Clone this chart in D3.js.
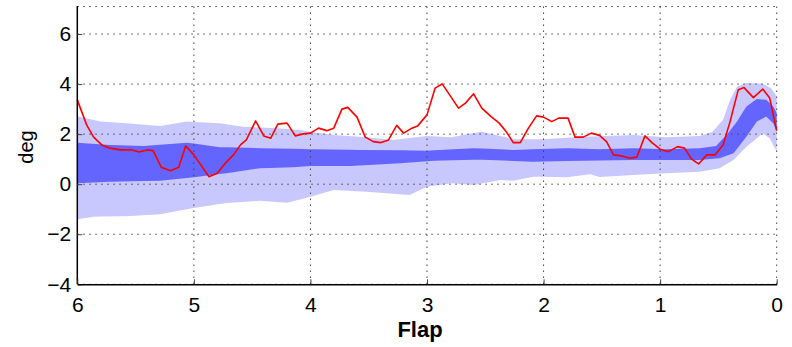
<!DOCTYPE html>
<html>
<head>
<meta charset="utf-8">
<script src="https://cdn.jsdelivr.net/npm/d3@7"></script>
<style>
  body { margin: 0; background: #fff; }
  svg { display: block; }
</style>
</head>
<body>
<div id="chart"></div>
<script>
// flap position (x, descending 6 -> 0) and values in deg
const lightUpper = [[6,2.71],[5.8,2.5],[5.58,2.44],[5.29,2.33],[5.06,2.5],[4.78,2.44],[4.58,2.3],[4.29,2.24],[4.09,2.17],[4.0,2.1],[3.8,1.97],[3.52,1.88],[3.29,1.77],[3.0,1.93],[2.79,1.88],[2.53,2.1],[2.26,1.8],[2.0,1.8],[1.72,1.88],[1.52,1.92],[1.23,1.97],[0.95,1.88],[0.66,1.93],[0.55,2.1],[0.46,2.57],[0.4,3.37],[0.34,3.9],[0.26,4.04],[0.12,4.01],[0.05,3.84],[0,3.5]];
const lightLower = [[6,-1.4],[5.86,-1.3],[5.58,-1.28],[5.29,-1.2],[5.12,-1.05],[5.0,-0.95],[4.72,-0.75],[4.43,-0.66],[4.2,-0.74],[4.0,-0.5],[3.8,-0.23],[3.52,-0.3],[3.15,-0.43],[3.0,-0.1],[2.79,0.04],[2.6,-0.03],[2.37,0.17],[2.26,0.14],[2.09,0.3],[1.8,0.28],[1.6,0.4],[1.52,0.29],[1.23,0.37],[0.95,0.44],[0.66,0.5],[0.49,0.64],[0.37,0.97],[0.26,1.5],[0.17,1.84],[0.12,2.04],[0.06,1.84],[0,1.3]];
const darkUpper = [[6,1.66],[5.72,1.57],[5.43,1.53],[5.06,1.66],[4.78,1.48],[4.43,1.44],[4.0,1.4],[3.58,1.37],[3.0,1.34],[2.6,1.44],[2.26,1.37],[1.8,1.44],[1.52,1.4],[1.23,1.44],[0.95,1.4],[0.66,1.44],[0.52,1.53],[0.43,1.97],[0.34,2.5],[0.26,3.1],[0.17,3.4],[0.09,3.37],[0.03,3.1],[0,2.84]];
const darkLower = [[6,0.04],[5.72,0.1],[5.29,0.14],[5.0,0.28],[4.72,0.44],[4.43,0.64],[4.15,0.68],[4.0,0.73],[3.66,0.73],[3.23,0.84],[2.94,0.94],[2.52,0.98],[2.09,0.9],[1.52,0.95],[1.23,0.97],[0.95,0.97],[0.66,0.97],[0.49,1.04],[0.37,1.24],[0.26,1.9],[0.17,2.5],[0.09,2.7],[0.03,2.44],[0,2.1]];
const flapLine = [[6,3.37],[5.92,2.37],[5.86,1.88],[5.79,1.57],[5.72,1.44],[5.63,1.37],[5.53,1.37],[5.47,1.29],[5.4,1.37],[5.35,1.34],[5.28,0.68],[5.2,0.54],[5.13,0.68],[5.07,1.53],[5.0,1.17],[4.87,0.3],[4.8,0.44],[4.73,0.84],[4.66,1.17],[4.6,1.57],[4.55,1.77],[4.47,2.53],[4.4,1.93],[4.34,1.84],[4.28,2.4],[4.2,2.44],[4.13,1.93],[4.06,2.01],[4.0,2.04],[3.93,2.24],[3.86,2.14],[3.8,2.24],[3.73,3.0],[3.68,3.07],[3.6,2.68],[3.53,1.88],[3.46,1.7],[3.4,1.66],[3.33,1.77],[3.26,2.35],[3.2,2.04],[3.13,2.24],[3.08,2.33],[3.0,2.77],[2.93,3.84],[2.87,4.01],[2.8,3.53],[2.73,3.04],[2.67,3.24],[2.6,3.61],[2.53,3.04],[2.45,2.7],[2.38,2.44],[2.32,2.1],[2.26,1.66],[2.2,1.66],[2.13,2.24],[2.06,2.73],[2.0,2.68],[1.93,2.5],[1.87,2.64],[1.79,2.64],[1.73,1.88],[1.66,1.88],[1.59,2.04],[1.52,1.95],[1.46,1.7],[1.4,1.17],[1.33,1.13],[1.26,1.04],[1.2,1.08],[1.13,1.93],[1.07,1.66],[1.0,1.4],[0.93,1.3],[0.85,1.5],[0.79,1.44],[0.73,1.0],[0.67,0.81],[0.6,1.17],[0.53,1.17],[0.46,1.57],[0.4,2.5],[0.33,3.77],[0.28,3.86],[0.2,3.46],[0.12,3.8],[0.06,3.44],[0,2.14]];
const xTicks = [6, 5, 4, 3, 2, 1, 0];
const yTicks = [-4, -2, 0, 2, 4, 6];

const W = 792, H = 347;
const plotLeft = 77.3, plotRight = 776.7, plotTop = 6.5, plotBottom = 284.3;
const font = "'Liberation Sans', Arial, sans-serif";

const x = d3.scaleLinear().domain([6, 0]).range([plotLeft, plotRight]);
const y = d3.scaleLinear().domain([-4, 7.1]).range([plotBottom, plotTop]);

const svg = d3.select("#chart").append("svg")
  .attr("width", W).attr("height", H);

// merge upper/lower edges onto one set of x positions
const band = (up, low) => {
  const xs = Array.from(new Set([...up.map(d => d[0]), ...low.map(d => d[0])])).sort((a, b) => b - a);
  const interp = arr => {
    const ax = arr.map(d => d[0]).reverse(), ay = arr.map(d => d[1]).reverse();
    return v => {
      const i = d3.bisectLeft(ax, v);
      if (ax[i] === v) return ay[i];
      const t = (v - ax[i - 1]) / (ax[i] - ax[i - 1]);
      return ay[i - 1] + t * (ay[i] - ay[i - 1]);
    };
  };
  const fu = interp(up), fl = interp(low);
  return xs.map(v => ({ x: v, hi: fu(v), lo: fl(v) }));
};

const area = d3.area()
  .x(d => x(d.x)).y0(d => y(d.lo)).y1(d => y(d.hi));

svg.append("path")
  .datum(band(lightUpper, lightLower))
  .attr("fill", "#c8c8ff")
  .attr("d", area);

svg.append("path")
  .datum(band(darkUpper, darkLower))
  .attr("fill", "#6464ff")
  .attr("d", area);

// grid
const grid = svg.append("g")
  .attr("stroke", "#444")
  .attr("stroke-width", 1)
  .attr("stroke-dasharray", "1.5,4.5");

grid.selectAll(".gx").data(xTicks.filter(d => d !== 6)).enter().append("line")
  .attr("x1", d => x(d)).attr("x2", d => x(d))
  .attr("y1", plotTop).attr("y2", plotBottom);
grid.selectAll(".gy").data(yTicks.concat([7.1])).enter().append("line")
  .attr("x1", plotLeft).attr("x2", plotRight)
  .attr("y1", d => y(d)).attr("y2", d => y(d));

// red line
svg.append("path")
  .datum(flapLine)
  .attr("fill", "none")
  .attr("stroke", "#ff0000")
  .attr("stroke-width", 1.6)
  .attr("stroke-linejoin", "round")
  .attr("d", d3.line().x(d => x(d[0])).y(d => y(d[1])));

// axes
const yAxis = svg.append("g")
  .attr("transform", `translate(${plotLeft},0)`)
  .call(d3.axisLeft(y).tickValues(yTicks).tickFormat(d3.format("d"))
    .tickSizeInner(-5).tickSizeOuter(0).tickPadding(6));
yAxis.select(".domain").attr("stroke", "#000").attr("stroke-width", 1.5)
  .attr("d", `M0,${plotTop - 0.5}V${plotBottom}`);
yAxis.selectAll(".tick line").attr("stroke", "#444");

const xAxis = svg.append("g")
  .attr("transform", `translate(0,${plotBottom})`)
  .call(d3.axisBottom(x).tickValues(xTicks).tickFormat(d3.format("d"))
    .tickSizeInner(-5).tickSizeOuter(0).tickPadding(13));
xAxis.select(".domain").attr("stroke", "#000").attr("stroke-width", 1.5);
xAxis.selectAll(".tick line").attr("stroke", "#444");

svg.selectAll(".tick text")
  .attr("font-family", font)
  .attr("font-size", 21)
  .attr("fill", "#000");

svg.append("text")
  .attr("x", 420).attr("y", 337)
  .attr("text-anchor", "middle")
  .attr("font-family", font)
  .attr("font-weight", "bold")
  .attr("font-size", 22)
  .text("Flap");

svg.append("text")
  .attr("transform", "translate(33,147) rotate(-90)")
  .attr("text-anchor", "middle")
  .attr("font-family", font)
  .attr("font-size", 20)
  .text("deg");
</script>
</body>
</html>
